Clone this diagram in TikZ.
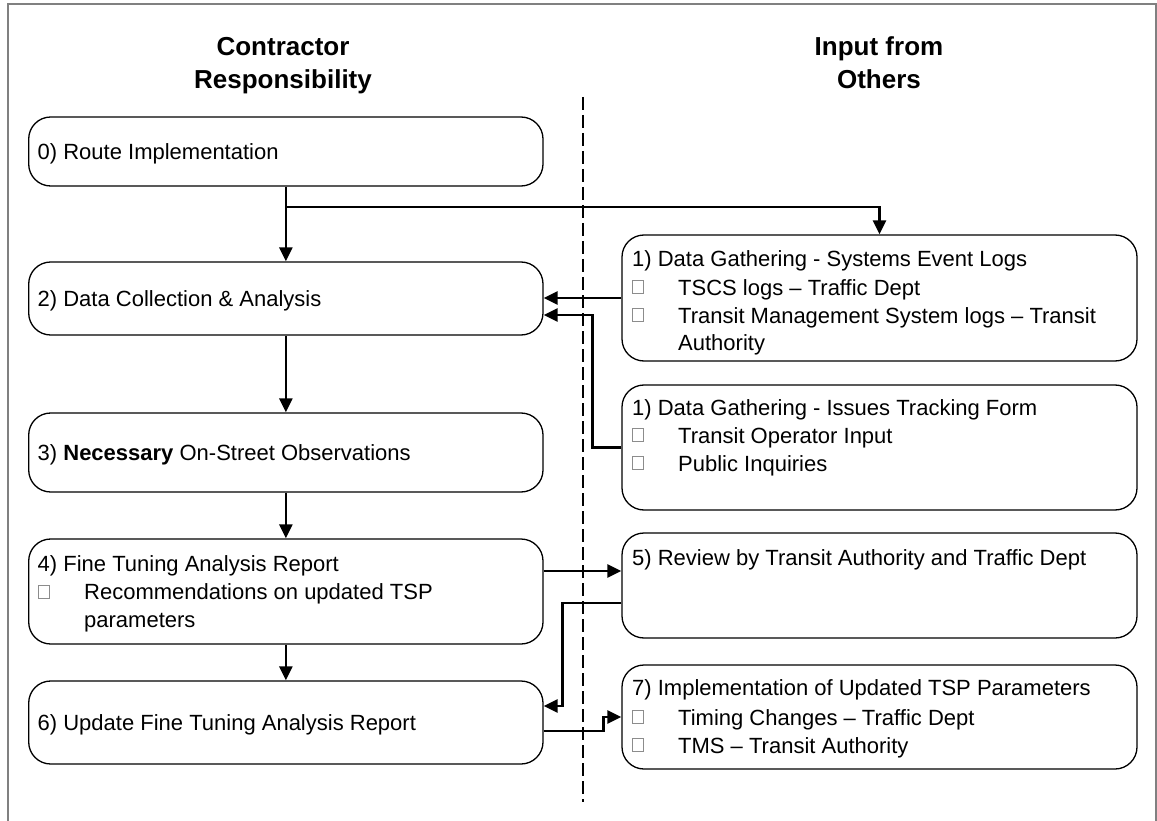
\documentclass[tikz,border=0pt]{standalone}
\usepackage{fontspec}
\setmainfont{Liberation Sans}
\usetikzlibrary{arrows.meta}
\begin{document}
\begin{tikzpicture}[x=1pt,y=-1pt,
  box/.style={draw=black,line width=1.3pt,rounded corners=22pt,inner sep=0pt},
  lbox/.style={box,minimum width=514.3pt},
  rbox/.style={box,minimum width=515pt},
  txt/.style={anchor=base west,inner sep=0pt,font=\fontsize{22}{28}\selectfont},
  hdr/.style={anchor=base,inner sep=0pt,font=\fontsize{26}{33}\selectfont\bfseries},
  bul/.style={draw=black!45,line width=0.7pt,inner sep=0pt,minimum width=11pt,minimum height=13pt},
  arr/.style={line width=2.6pt,-{Triangle[length=14pt,width=13pt]}},
  divider/.style={line width=2pt,dash pattern=on 13pt off 5pt}]
\useasboundingbox (0,0) rectangle (1157,821);
\draw[black!50,line width=2pt] (8,830) -- (8,4) -- (1156,4) -- (1156,830);

% headers
\node[hdr] (h1) at (283,56) {Contractor};
\node[hdr] (h2) at (283,89) {Responsibility};
\node[hdr] (h3) at (879,56) {Input from};
\node[hdr] (h4) at (879,89) {Others};

% divider
\coordinate (dtop) at (582.5,97);
\coordinate (dbot) at (582.5,802);
\draw[divider] (dtop) -- (dbot);

% left boxes
\node[lbox,minimum height=69pt] (b0) at (285.85,151.5) {};
\node[lbox,minimum height=73pt] (b2) at (285.85,298.5) {};
\node[lbox,minimum height=79pt] (b3) at (285.85,452.5) {};
\node[lbox,minimum height=105pt] (b4) at (285.85,591.5) {};
\node[lbox,minimum height=83pt] (b6) at (285.85,722.5) {};

% right boxes
\node[rbox,minimum height=126pt] (r1) at (879.5,298) {};
\node[rbox,minimum height=125pt] (r1b) at (879.5,447.5) {};
\node[rbox,minimum height=105pt] (r5) at (879.5,585.5) {};
\node[rbox,minimum height=104pt] (r7) at (879.5,717) {};

% left texts
\node[txt] (t0) at (37.5,160) {0) Route Implementation};
\node[txt] (t2) at (37.5,306) {2) Data Collection \& Analysis};
\node[txt] (t3) at (37.5,460) {3) \textbf{Necessary} On-Street Observations};
\node[txt] (t4a) at (37.5,571) {4) Fine Tuning Analysis Report};
\node[bul] (u4) at (44,592) {};
\node[txt] (t4b) at (84,599) {Recommendations on updated TSP};
\node[txt] (t4c) at (84,627) {parameters};
\node[txt] (t6) at (37.5,730) {6) Update Fine Tuning Analysis Report};

% right texts
\node[txt] (s1a) at (632,267) {1) Data Gathering - Systems Event Logs};
\node[bul] (v1) at (638,287) {};
\node[txt] (s1b) at (678,295) {TSCS logs – Traffic Dept};
\node[bul] (v2) at (638,315) {};
\node[txt] (s1c) at (678,323) {Transit Management System logs – Transit};
\node[txt] (s1d) at (678,350) {Authority};

\node[txt] (s2a) at (632,415) {1) Data Gathering - Issues Tracking Form};
\node[bul] (v3) at (638,435) {};
\node[txt] (s2b) at (678,443) {Transit Operator Input};
\node[bul] (v4) at (638,463) {};
\node[txt] (s2c) at (678,471) {Public Inquiries};

\node[txt] (s5) at (632,565) {5) Review by Transit Authority and Traffic Dept};

\node[txt] (s7a) at (632,695) {7) Implementation of Updated TSP Parameters};
\node[bul] (v5) at (638,717) {};
\node[txt] (s7b) at (678,725) {Timing Changes – Traffic Dept};
\node[bul] (v6) at (638,745) {};
\node[txt] (s7c) at (678,753) {TMS – Transit Authority};

% connectors
\coordinate (j0) at (285.85,207);
\draw[arr] (b0.south) -- (b2.north);
\draw[arr] (j0) -| (r1.north);
\draw[arr] (r1.west) -- (r1.west -| b2.east);
\draw[arr] (r1b.west) -- ++(-29,0) |- ([yshift=-16.5pt]b2.east);
\draw[arr] (b2.south) -- (b3.north);
\draw[arr] (b3.south) -- (b4.north);
\draw[arr] (b4.south) -- (b6.north);
\draw[arr] ([yshift=20.5pt]b4.east) -- ([yshift=20.5pt]b4.east -| r5.west);
\draw[arr] ([yshift=-17.5pt]r5.west) -- ++(-59,0) |- ([yshift=16.5pt]b6.east);
\draw[arr] ([yshift=-8.5pt]b6.east) -- ++(60,0) |- (r7.west);
\end{tikzpicture}
\end{document}
